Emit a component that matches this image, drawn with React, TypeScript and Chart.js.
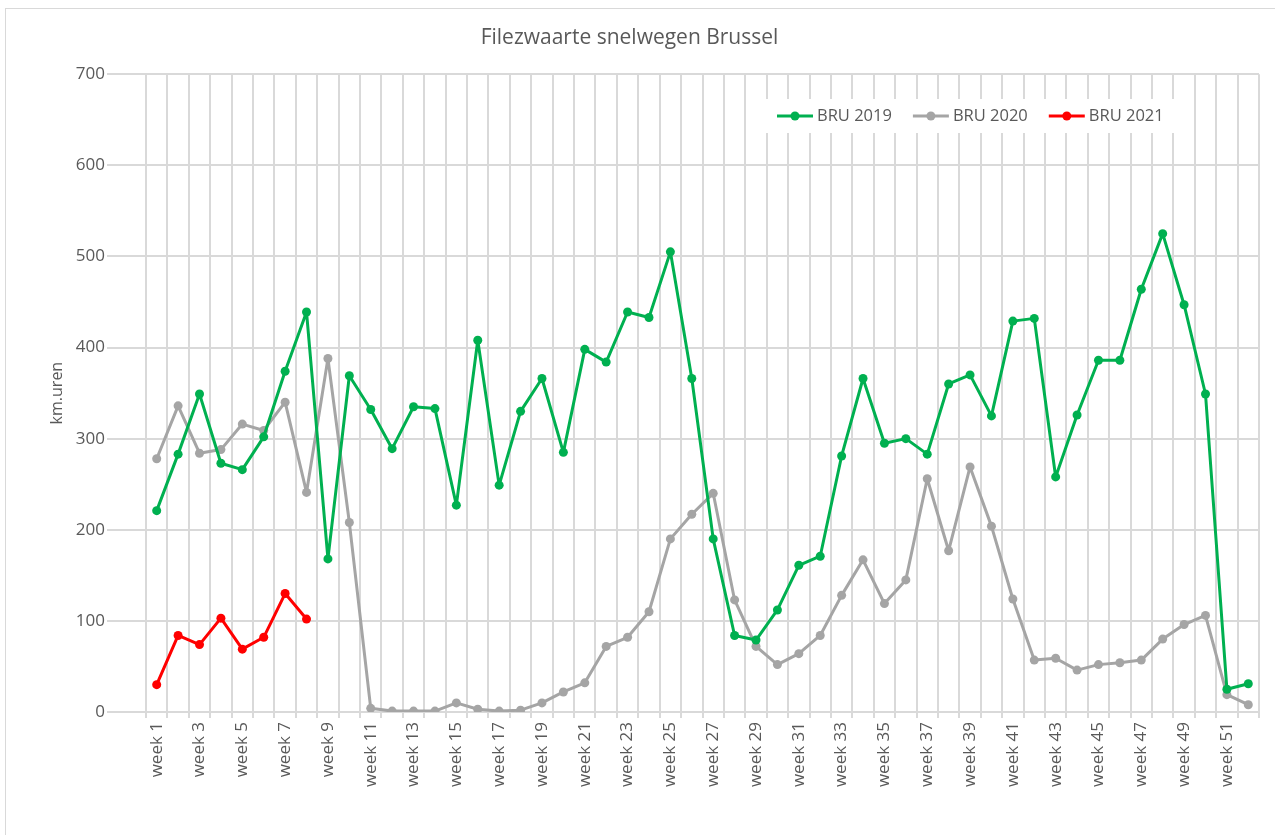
import React, { useEffect, useRef } from "react";
import { Chart, registerables } from "chart.js";

Chart.register(...registerables);

const weeks: string[] = Array.from({ length: 52 }, (_, i) => `week ${i + 1}`);

const bru2019: number[] = [
  221, 283, 349, 273, 266, 302, 374, 439, 168, 369,
  332, 289, 335, 333, 227, 408, 249, 330, 366, 285,
  398, 384, 439, 433, 505, 366, 190, 84, 79, 112,
  161, 171, 281, 366, 295, 300, 283, 360, 370, 325,
  429, 432, 258, 326, 386, 386, 464, 525, 447, 349,
  25, 31,
];

const bru2020: number[] = [
  278, 336, 284, 288, 316, 309, 340, 241, 388, 208,
  4, 1, 1, 1, 10, 3, 1, 2, 10, 22,
  32, 72, 82, 110, 190, 217, 240, 123, 72, 52,
  64, 84, 128, 167, 119, 145, 256, 177, 269, 204,
  124, 57, 59, 46, 52, 54, 57, 80, 96, 106,
  19, 8,
];

const bru2021: number[] = [30, 84, 74, 103, 69, 82, 130, 102];

const seriesNames: string[] = ["BRU 2019", "BRU 2020", "BRU 2021"];
const seriesColors: string[] = ["#00B050", "#A5A5A5", "#FF0000"];

const FONT = "'Open Sans', 'DejaVu Sans', sans-serif";
const TEXT = "#595959";
const GRID = "#D9D9D9";

const legendPlugin = {
  id: "insideLegend",
  afterDraw(chart: any) {
    const ctx = chart.ctx;
    ctx.save();
    ctx.fillStyle = "#FFFFFF";
    ctx.fillRect(766, 99, 410, 34);
    ctx.font = `16.5px ${FONT}`;
    ctx.textBaseline = "middle";
    ctx.textAlign = "left";
    let x = 777;
    const y = 116;
    chart.data.datasets.forEach((ds: any) => {
      ctx.strokeStyle = ds.borderColor;
      ctx.lineWidth = 3;
      ctx.beginPath();
      ctx.moveTo(x, y);
      ctx.lineTo(x + 36, y);
      ctx.stroke();
      ctx.fillStyle = ds.borderColor;
      ctx.beginPath();
      ctx.arc(x + 18, y, 4.5, 0, Math.PI * 2);
      ctx.fill();
      ctx.fillStyle = TEXT;
      ctx.fillText(ds.label, x + 40, y);
      const w = ctx.measureText(ds.label).width;
      x += 40 + w + 21;
    });
    ctx.restore();
  },
};

export default function App() {
  const ref = useRef<HTMLCanvasElement | null>(null);

  useEffect(() => {
    if (!ref.current) return;
    const mk = (i: number, data: number[]) => ({
      label: seriesNames[i],
      data,
      borderColor: seriesColors[i],
      backgroundColor: seriesColors[i],
      borderWidth: 3,
      borderJoinStyle: "round" as const,
      borderCapStyle: "round" as const,
      pointRadius: 4.5,
      pointHoverRadius: 4.5,
      pointBorderWidth: 0,
      tension: 0,
      fill: false,
    });
    const chart = new Chart(ref.current, {
      type: "line",
      data: {
        labels: weeks,
        datasets: [mk(0, bru2019), mk(1, bru2020), mk(2, bru2021)],
      },
      options: {
        responsive: false,
        animation: false,
        layout: { padding: { left: 0, right: 16, top: 0, bottom: 0 } },
        plugins: {
          legend: { display: false },
          tooltip: { enabled: false },
          title: {
            display: true,
            text: "Filezwaarte snelwegen Brussel",
            color: TEXT,
            font: { family: FONT, size: 21, weight: "normal" },
            padding: { top: 25, bottom: 24 },
          },
        },
        scales: {
          x: {
            type: "category",
            offset: true,
            grid: {
              offset: true,
              color: GRID,
              lineWidth: 2,
              tickLength: 6,
              tickColor: GRID,
            },
            border: { display: true, color: GRID, width: 2 },
            ticks: {
              autoSkip: false,
              minRotation: 90,
              maxRotation: 90,
              padding: 4,
              color: TEXT,
              font: { family: FONT, size: 17 },
              callback: function (this: any, _v: any, i: number) {
                return i % 2 === 0 ? weeks[i] : "";
              },
            },
            afterFit: (scale: any) => {
              scale.height = 123;
            },
          },
          y: {
            min: 0,
            max: 700,
            grid: {
              color: GRID,
              lineWidth: 2,
              tickLength: 39,
              tickColor: GRID,
            },
            border: { display: false },
            ticks: {
              stepSize: 100,
              padding: 2,
              color: TEXT,
              font: { family: FONT, size: 17 },
            },
            title: {
              display: true,
              text: "km.uren",
              color: TEXT,
              font: { family: FONT, size: 16 },
              padding: { top: 48, bottom: 0 },
            },
            afterFit: (scale: any) => {
              scale.width = 146;
            },
          },
        },
      },
      plugins: [legendPlugin],
    });
    return () => chart.destroy();
  }, []);

  return (
    <div style={{ position: "relative", width: 1275, height: 835, overflow: "hidden", background: "#fff" }}>
      <style>{`body{margin:0;}`}</style>
      <div
        style={{
          position: "absolute",
          left: 5,
          top: 8,
          width: 1300,
          height: 900,
          border: "1px solid #D9D9D9",
          boxSizing: "border-box",
        }}
      />
      <canvas ref={ref} width={1275} height={835} style={{ position: "absolute", left: 0, top: 0 }} />
    </div>
  );
}
